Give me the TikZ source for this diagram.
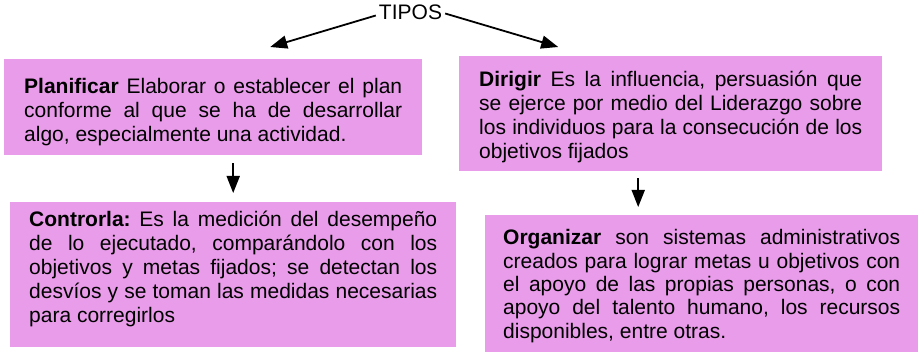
\documentclass[tikz,border=0pt]{standalone}
\usepackage{fontspec}
\setmainfont{Liberation Sans}
\usetikzlibrary{arrows.meta}
\frenchspacing

\definecolor{rosa}{RGB}{233,156,233}
\newcommand{\textocaja}[4]{\parbox[c][#1][t]{#2}{\hyphenpenalty=10000\tolerance=10000\vspace*{#3}\rule{0pt}{20pt}#4}}

\begin{document}
\begin{tikzpicture}[x=1pt, y=1pt,
    font=\fontsize{21pt}{24.1pt}\selectfont,
    caja/.style={fill=rosa, inner ysep=0pt, anchor=north west},
    flecha/.style={-{Triangle[length=17pt,width=13pt]}, line width=1.8pt}]
            \useasboundingbox (0,0) rectangle (919,-352);
            \node[inner sep=3pt] (tipos) at (410.5,-12.5) {TIPOS};
            \node[caja, inner xsep=20pt] (planificar) at (4,-59) {\textocaja{96pt}{378pt}{14pt}{\textbf{Planificar} Elaborar o establecer el plan\linebreak conforme al que se ha de desarrollar\linebreak algo, especialmente una actividad.}};
            \node[caja, inner xsep=20pt] (dirigir) at (459,-56) {\textocaja{115pt}{383pt}{10.5pt}{\textbf{Dirigir} Es la influencia, persuasión que\linebreak se ejerce por medio del Liderazgo sobre\linebreak los individuos para la consecución de los\linebreak objetivos fijados}};
            \node[caja, inner xsep=19pt] (controlar) at (10,-202) {\textocaja{145pt}{408pt}{4pt}{\textbf{Controrla:} Es la medición del desempeño\linebreak de lo ejecutado, comparándolo con los\linebreak objetivos y metas fijados; se detectan los\linebreak desvíos y se toman las medidas necesarias\linebreak para corregirlos}};
            \node[caja, inner xsep=18pt] (organizar) at (485,-215) {\textocaja{137pt}{397pt}{9.5pt}{\fontsize{21pt}{23.4pt}\selectfont\textbf{Organizar} son sistemas administrativos\linebreak creados para lograr metas u objetivos con\linebreak el apoyo de las propias personas, o con\linebreak apoyo del talento humano, los recursos\linebreak disponibles, entre otras.}};
            \draw[flecha] ([yshift=-3pt]tipos.west) -- ([xshift=57pt,yshift=12pt]planificar.north);
            \draw[flecha] ([yshift=-1pt]tipos.east) -- ([xshift=-112.5pt,yshift=9pt]dirigir.north);
            \draw[flecha, shorten <=8pt, shorten >=9pt] (planificar.south -| controlar.north) -- (controlar.north);
            \draw[flecha, shorten <=7pt, shorten >=8pt] ([xshift=-32.5pt]dirigir.south) -- ([xshift=-32.5pt]dirigir.south |- organizar.north);
        \end{tikzpicture}
\end{document}
